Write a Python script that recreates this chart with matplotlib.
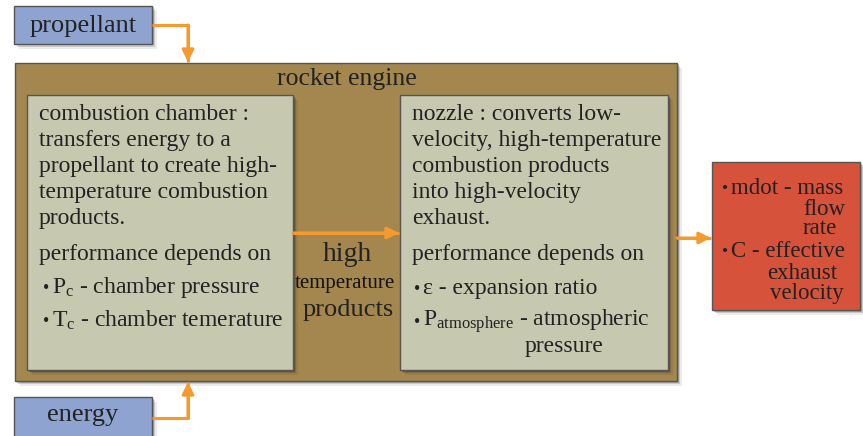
import matplotlib.pyplot as plt
from matplotlib.patches import Rectangle

plt.rcParams['font.family'] = ['Liberation Serif', 'DejaVu Serif']
plt.rcParams['mathtext.fontset'] = 'custom'
plt.rcParams['mathtext.rm'] = 'Liberation Serif'
plt.rcParams['mathtext.it'] = 'Liberation Serif:italic'

# diagram content
input_labels = ["propellant", "energy"]
engine_title = "rocket engine"
chamber_lines = ["combustion chamber :", "transfers energy to a",
                 "propellant to create high-", "temperature combustion",
                 "products."]
chamber_perf = ["performance depends on"]
chamber_bullets = ["P$_\\mathrm{c}$ - chamber pressure",
                   "T$_\\mathrm{c}$ - chamber temerature"]
link_label = ["high", "temperature", "products"]
nozzle_lines = ["nozzle : converts low-", "velocity, high-temperature",
                "combustion products", "into high-velocity", "exhaust."]
nozzle_perf = ["performance depends on"]
nozzle_bullets = ["\u03b5 - expansion ratio",
                  "P$_\\mathrm{atmosphere}$ - atmospheric"]
nozzle_cont = "pressure"
output_bullets = ["mdot - mass", "C - effective"]
output_cont = [("flow", 803), ("rate", 803), ("exhaust", 767), ("velocity", 770)]

BLUE = '#8fa3d0'
BROWN = '#a3874f'
INNER = '#c6c8b0'
RED = '#d6523b'
ORANGE = '#f59a2e'
TXT = '#222222'
EDGE = '#555555'
DY = 2  # baseline nudge

fig = plt.figure(figsize=(8.63, 4.36), dpi=100)
ax = fig.add_axes([0, 0, 1, 1])
ax.set_xlim(0, 863)
ax.set_ylim(436, 0)
ax.axis('off')


def box(x0, y0, x1, y1, color, z=1):
    for k, a in [(5, 0.08), (3, 0.14), (1.5, 0.2)]:
        ax.add_patch(Rectangle((x0 + k, y0 + k), x1 - x0, y1 - y0,
                               facecolor='#000000', alpha=a, lw=0, zorder=z - 0.5))
    ax.add_patch(Rectangle((x0, y0), x1 - x0, y1 - y0, facecolor=color,
                           edgecolor=EDGE, lw=1, zorder=z))


def txt(x, y, s, size=17, ha='left', color=TXT):
    ax.text(x, y + DY, s, fontsize=size, color=color, ha=ha, va='center', zorder=6)


def bullet(x, y, s, size=17):
    ax.text(x, y + DY + 1, "\u2022", fontsize=size * 0.75, color=TXT, ha='left',
            va='center', zorder=6)
    txt(x + 9, y, s, size)


def arrow(pts, z=5):
    xs = [p[0] for p in pts]
    ys = [p[1] for p in pts]
    ax.plot(xs, ys, color=ORANGE, lw=2.2, solid_capstyle='butt', zorder=z)
    ax.annotate('', xy=pts[-1], xytext=pts[-2],
                arrowprops=dict(arrowstyle='-|>,head_length=0.7,head_width=0.35',
                                color=ORANGE, lw=2.2, shrinkA=0, shrinkB=0), zorder=z)


# input boxes
box(14, 6, 152, 44, BLUE)
txt(83, 24, input_labels[0], 19, 'center')
box(14, 397, 152, 440, BLUE)
txt(83, 413, input_labels[1], 19, 'center')

# rocket engine
box(15, 63, 677, 381, BROWN)
txt(347, 77, engine_title, 18.5, 'center')
box(27, 95, 293, 370, INNER, z=2)
box(400, 95, 668, 370, INNER, z=2)

for i, s in enumerate(chamber_lines):
    txt(39, 112 + 26 * i, s)
txt(39, 252, chamber_perf[0])
for s, y in zip(chamber_bullets, [285, 318]):
    bullet(43, y, s)

for i, s in enumerate(nozzle_lines):
    txt(412, 112 + 26 * i, s)
txt(412, 252, nozzle_perf[0])
for s, y in zip(nozzle_bullets, [286, 319]):
    bullet(414, y, s)
txt(525, 344, nozzle_cont)

# middle label
txt(347, 252, link_label[0], 20, 'center')
txt(345, 281, link_label[1], 15, 'center', '#111111')
txt(348, 308, link_label[2], 19, 'center')

# output box
box(712, 162, 860, 310, RED)
for s, y in zip(output_bullets, [186, 249]):
    bullet(722, y, s, 16.5)
for (s, x), y in zip(output_cont, [207, 226, 271, 291]):
    txt(x, y, s, 16.5)

# arrows
arrow([(152, 25), (188, 25), (188, 62)])
arrow([(152, 418), (188, 418), (188, 382)])
arrow([(293, 233), (399, 233)])
arrow([(677, 238), (711, 238)])

fig.savefig('out.png', dpi=100)
